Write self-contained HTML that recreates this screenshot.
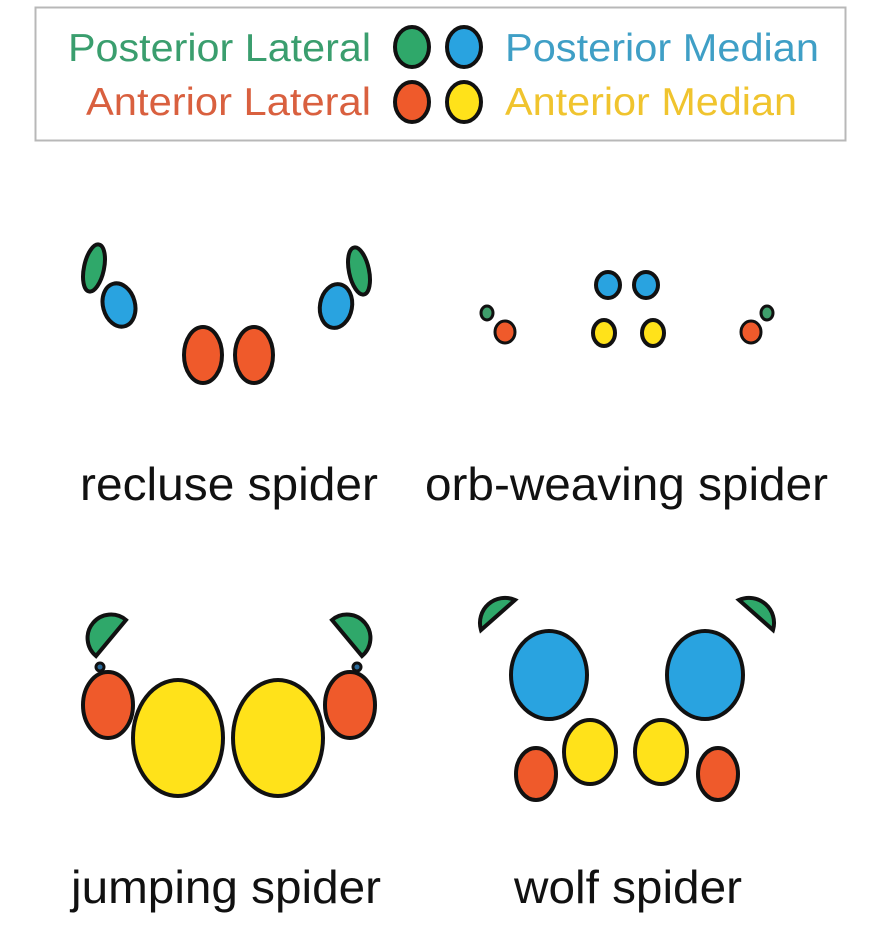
<!DOCTYPE html>
<html><head><style>html,body{margin:0;padding:0;background:#fff}svg{display:block}</style></head>
<body>
<svg width="881" height="928" viewBox="0 0 881 928" xmlns="http://www.w3.org/2000/svg" font-family="Liberation Sans, Arial, sans-serif">
<rect x="35.5" y="7.5" width="810" height="133" fill="#fff" stroke="#b8b8b8" stroke-width="2"/>
<g font-size="39">
<text x="371" y="61" text-anchor="end" fill="#3a9e6e" textLength="303" lengthAdjust="spacingAndGlyphs">Posterior Lateral</text>
<text x="371" y="115" text-anchor="end" fill="#d9603f" textLength="285" lengthAdjust="spacingAndGlyphs">Anterior Lateral</text>
<text x="505" y="61" fill="#3f9fc6" textLength="314" lengthAdjust="spacingAndGlyphs">Posterior Median</text>
<text x="505" y="115" fill="#f0c42e" textLength="292" lengthAdjust="spacingAndGlyphs">Anterior Median</text>
</g>
<g stroke="#111" stroke-width="4">
<ellipse cx="412" cy="47" rx="17" ry="20" fill="#2fa86a"/>
<ellipse cx="464" cy="47" rx="17" ry="20" fill="#29a3e0"/>
<ellipse cx="412" cy="102" rx="17" ry="20" fill="#ef5a2b"/>
<ellipse cx="464" cy="102" rx="17" ry="20" fill="#ffe21a"/>

<!-- recluse -->
<ellipse cx="94" cy="268" rx="10" ry="24" fill="#2fa86a" transform="rotate(12 94 268)"/>
<ellipse cx="119" cy="305" rx="16" ry="22" fill="#29a3e0" transform="rotate(-15 119 305)"/>
<ellipse cx="203" cy="355" rx="19" ry="28" fill="#ef5a2b"/>
<ellipse cx="254" cy="355" rx="19" ry="28" fill="#ef5a2b"/>
<ellipse cx="359" cy="271" rx="10" ry="24" fill="#2fa86a" transform="rotate(-12 359 271)"/>
<ellipse cx="336" cy="306" rx="16" ry="22" fill="#29a3e0" transform="rotate(10 336 306)"/>

<!-- orb -->
<ellipse cx="608" cy="285" rx="12" ry="13" fill="#29a3e0"/>
<ellipse cx="646" cy="285" rx="12" ry="13" fill="#29a3e0"/>
<ellipse cx="604" cy="333" rx="11" ry="13" fill="#ffe21a"/>
<ellipse cx="653" cy="333" rx="11" ry="13" fill="#ffe21a"/>
<ellipse cx="487" cy="313" rx="6" ry="7" fill="#3f9e6b" stroke-width="3"/>
<ellipse cx="505" cy="332" rx="10" ry="11" fill="#ef5a2b" stroke-width="3"/>
<ellipse cx="767" cy="313" rx="6" ry="7" fill="#3f9e6b" stroke-width="3"/>
<ellipse cx="751" cy="332" rx="10" ry="11" fill="#ef5a2b" stroke-width="3"/>

<!-- jumping -->
<path d="M126 620 L96 656 A22 22 0 0 1 126 620 Z" fill="#2fa86a"/>
<path d="M332 620 L362 656 A22 22 0 0 0 332 620 Z" fill="#2fa86a"/>
<circle cx="100" cy="667" r="4" fill="#2a6a9a" stroke-width="3"/>
<circle cx="357" cy="667" r="4" fill="#2a6a9a" stroke-width="3"/>
<ellipse cx="108" cy="705" rx="25" ry="33" fill="#ef5a2b"/>
<ellipse cx="350" cy="705" rx="25" ry="33" fill="#ef5a2b"/>
<ellipse cx="178" cy="738" rx="45" ry="58" fill="#ffe21a"/>
<ellipse cx="278" cy="738" rx="45" ry="58" fill="#ffe21a"/>

<!-- wolf -->
<path d="M515 600 L481 630 A25 25 0 0 1 515 600 Z" fill="#2fa86a"/>
<path d="M739 600 L773 630 A25 25 0 0 0 739 600 Z" fill="#2fa86a"/>
<ellipse cx="549" cy="675" rx="38" ry="44" fill="#29a3e0"/>
<ellipse cx="705" cy="675" rx="38" ry="44" fill="#29a3e0"/>
<ellipse cx="590" cy="752" rx="26" ry="32" fill="#ffe21a"/>
<ellipse cx="661" cy="752" rx="26" ry="32" fill="#ffe21a"/>
<ellipse cx="536" cy="774" rx="20" ry="26" fill="#ef5a2b"/>
<ellipse cx="718" cy="774" rx="20" ry="26" fill="#ef5a2b"/>
</g>
<g font-size="46" fill="#111">
<text x="80" y="500" textLength="298" lengthAdjust="spacingAndGlyphs">recluse spider</text>
<text x="425" y="500" textLength="403" lengthAdjust="spacingAndGlyphs">orb-weaving spider</text>
<text x="71" y="903" textLength="310" lengthAdjust="spacingAndGlyphs">jumping spider</text>
<text x="514" y="903" textLength="228" lengthAdjust="spacingAndGlyphs">wolf spider</text>
</g>
</svg>
</body></html>
